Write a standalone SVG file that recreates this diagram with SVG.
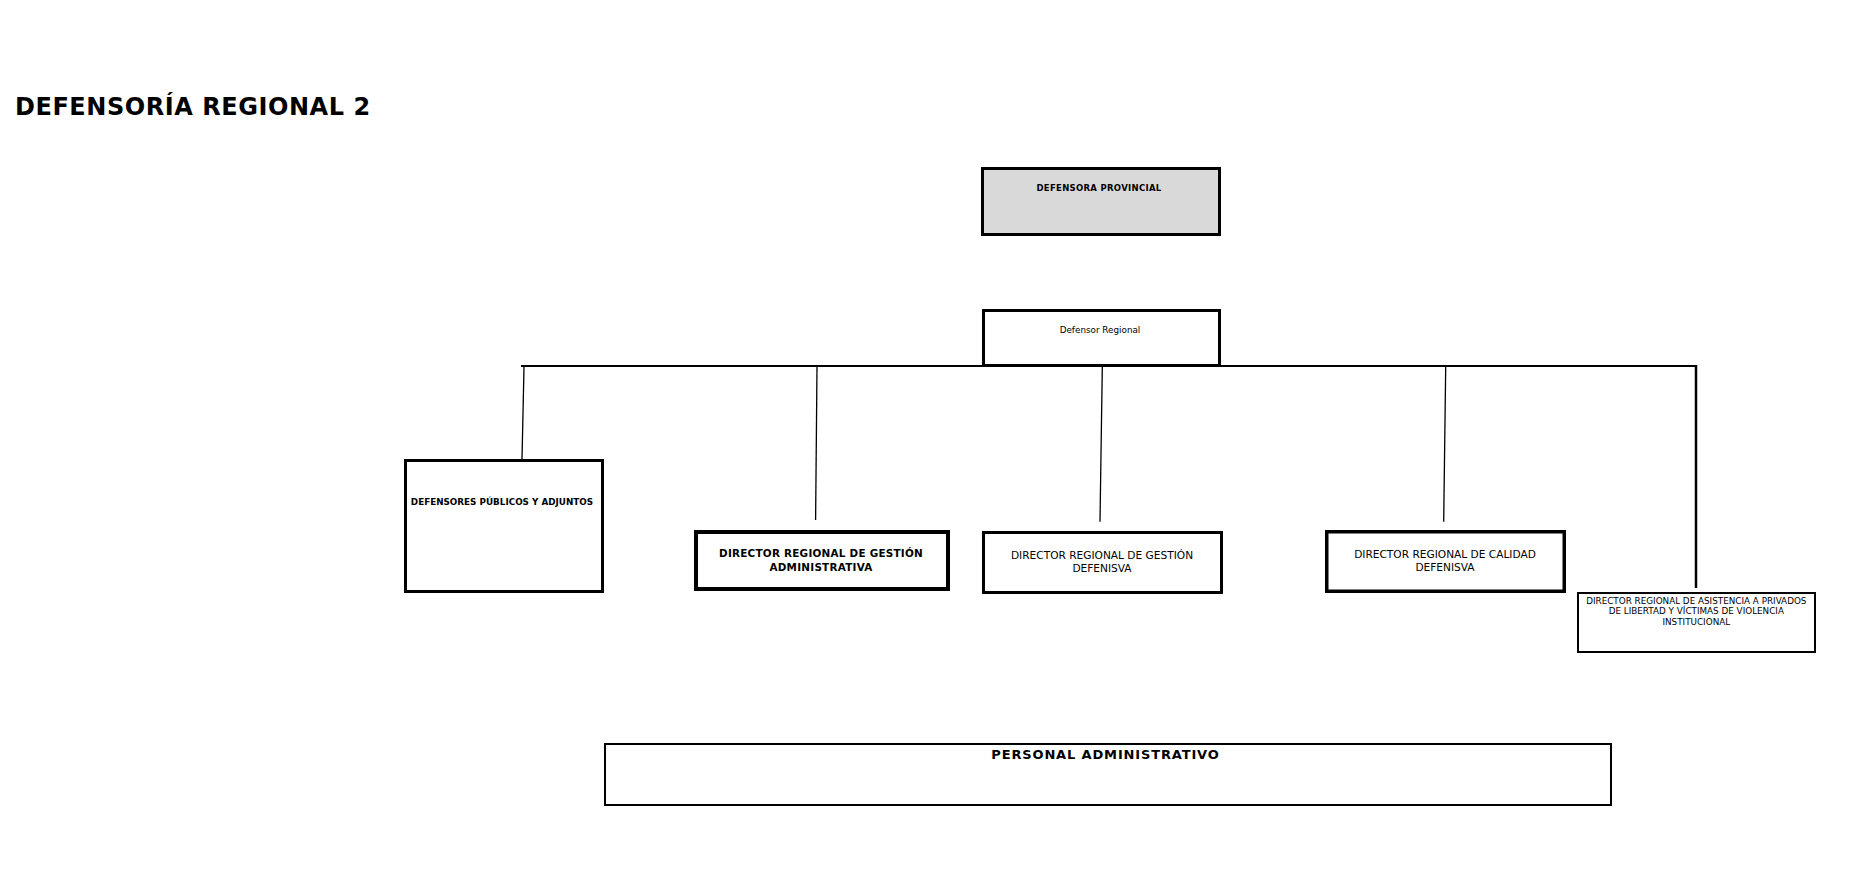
<svg xmlns="http://www.w3.org/2000/svg" width="1854" height="881" viewBox="0 0 1854 881">
<style>
text{font-family:"DejaVu Sans","Liberation Sans",sans-serif;fill:#000;text-anchor:middle}
.b{font-weight:bold}
.box{fill:#fff;stroke:#000}
.con{stroke:#000;fill:none}
</style>
<rect x="0" y="0" width="1854" height="881" fill="#fff"/>
<text id="title" class="b" x="15" y="115" font-size="24" letter-spacing="0.55" style="text-anchor:start">DEFENSORÍA REGIONAL 2</text>
<g id="connectors">
<line class="con" x1="521" y1="366" x2="1697" y2="366" stroke-width="2"/>
<line class="con" x1="524" y1="367" x2="522" y2="459" stroke-width="1.3"/>
<line class="con" x1="817" y1="367" x2="815.6" y2="520" stroke-width="1.3"/>
<line class="con" x1="1102.3" y1="367" x2="1100" y2="521.7" stroke-width="1.3"/>
<line class="con" x1="1445.7" y1="367" x2="1443.7" y2="521.7" stroke-width="1.3"/>
<line class="con" x1="1696" y1="365" x2="1696" y2="588" stroke-width="2.5"/>
</g>
<g id="defensora-provincial">
<rect x="982.5" y="168.5" width="237" height="66" fill="#d9d9d9" stroke="#000" stroke-width="3"/>
<text class="b" x="1099" y="190.7" font-size="8.5" letter-spacing="0.3">DEFENSORA PROVINCIAL</text>
</g>
<g id="defensor-regional">
<rect class="box" x="983.5" y="310.5" width="236" height="55" stroke-width="3"/>
<text x="1100" y="332.7" font-size="8.8">Defensor Regional</text>
</g>
<g id="defensores-publicos">
<rect class="box" x="405.5" y="460.5" width="197" height="131" stroke-width="3"/>
<text class="b" x="502" y="505" font-size="8.8">DEFENSORES PÚBLICOS Y ADJUNTOS</text>
</g>
<g id="dir-gestion-administrativa">
<rect class="box" x="696" y="532" width="252" height="57" stroke-width="4"/>
<text class="b" x="821" y="557.3" font-size="10.4" letter-spacing="0.25">DIRECTOR REGIONAL DE GESTIÓN</text>
<text class="b" x="821" y="570.7" font-size="10.4" letter-spacing="0.25">ADMINISTRATIVA</text>
</g>
<g id="dir-gestion-defensiva">
<rect class="box" x="983.5" y="532.5" width="238" height="60" stroke-width="3"/>
<text x="1102" y="559" font-size="10.6">DIRECTOR REGIONAL DE GESTIÓN</text>
<text x="1102" y="571.7" font-size="10.6">DEFENISVA</text>
</g>
<g id="dir-calidad-defensiva">
<rect class="box" x="1326.75" y="531.75" width="237.5" height="59.5" stroke-width="3.5"/>
<text x="1445" y="558.3" font-size="10.6">DIRECTOR REGIONAL DE CALIDAD</text>
<text x="1445" y="571" font-size="10.6">DEFENISVA</text>
</g>
<g id="dir-asistencia">
<rect class="box" x="1578" y="593" width="237" height="59" stroke-width="2"/>
<text x="1696.3" y="603.5" font-size="8.8">DIRECTOR REGIONAL DE ASISTENCIA A PRIVADOS</text>
<text x="1696.3" y="614.2" font-size="8.8">DE LIBERTAD Y VÍCTIMAS DE VIOLENCIA</text>
<text x="1696.3" y="624.6" font-size="8.8">INSTITUCIONAL</text>
</g>
<g id="personal-administrativo">
<rect class="box" x="605" y="744" width="1006" height="61" stroke-width="2"/>
<text class="b" x="1105.5" y="758.7" font-size="13" letter-spacing="0.85">PERSONAL ADMINISTRATIVO</text>
</g>
</svg>
